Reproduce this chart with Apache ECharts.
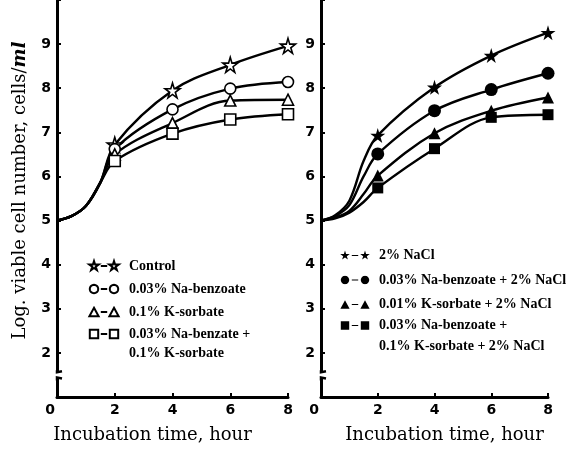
<!DOCTYPE html>
<html><head><meta charset="utf-8">
<script src="https://cdn.jsdelivr.net/npm/echarts@6/dist/echarts.min.js"></script>
<style>html,body{margin:0;padding:0;background:#fff}#c{width:585px;height:454px}</style>
</head><body><div id="c"></div>
<script>
// Incubation time (hour); points before 2 h are read off the drawn curves (no markers there)
const hours = [0, 0.5, 1, 1.5, 2, 4, 6, 8];
const xTicks = [0, 2, 4, 6, 8];
const yTicks = [2, 3, 4, 5, 6, 7, 8, 9];
// Left panel
const control = [5, 5.1, 5.33, 5.86, 6.72, 7.95, 8.53, 8.96];
const naBenzoate = [5, 5.1, 5.33, 5.86, 6.62, 7.52, 7.99, 8.14];
const kSorbate = [5, 5.1, 5.33, 5.86, 6.50, 7.21, 7.72, 7.74];
const naBenzateKSorbate = [5, 5.1, 5.33, 5.86, 6.35, 6.97, 7.29, 7.41];
// Right panel
const nacl = [5, 5.12, 5.45, 6.35, 6.93, 8.02, 8.74, 9.26];
const naBenzoateNacl = [5, 5.1, 5.35, 6.0, 6.51, 7.49, 7.97, 8.34];
const kSorbateNacl = [5, 5.07, 5.22, 5.6, 6.02, 6.98, 7.49, 7.79];
const comboNacl = [5, 5.05, 5.18, 5.42, 5.74, 6.63, 7.34, 7.40];

const leftNames = ['Control', '0.03% Na-benzoate', '0.1% K-sorbate', '0.03% Na-benzate +\n0.1% K-sorbate'];
const rightNames = ['2% NaCl', '0.03% Na-benzoate + 2% NaCl', '0.01% K-sorbate + 2% NaCl', '0.03% Na-benzoate +\n0.1% K-sorbate + 2% NaCl'];
const xTitle = 'Incubation time, hour';
const yTitle = 'Log. viable cell number, cells/';
const yTitleUnit = 'ml';

const STAR_D = 'M50 0L61 35L98 35L68 57L79 91L50 70L21 91L32 57L2 35L39 35Z';
const STAR = 'path://' + STAR_D;
const SERIF = '"Liberation Serif","DejaVu Serif",serif';
const TSERIF = '"DejaVu Serif","Liberation Serif",serif';
const SANS = '"DejaVu Sans",sans-serif';

// legend icons "symbol – symbol" (box 0..300 x 0..100, plus an invisible point to leave a gap before the text)
function shiftPath(d, dx) {
  return d.replace(/([ML])(-?[\d.]+) (-?[\d.]+)/g, (m, c, x, y) => c + (parseFloat(x) + dx).toFixed(1) + ' ' + y);
}
function circlePath() {
  let d = '';
  for (let k = 0; k < 32; k++) {
    const a = k / 32 * Math.PI * 2;
    d += (k ? 'L' : 'M') + (50 + 42 * Math.cos(a)).toFixed(1) + ' ' + (50 + 42 * Math.sin(a)).toFixed(1);
  }
  return d + 'Z';
}
const SHAPES = {
  star: STAR_D,
  circle: circlePath(),
  triangle: 'M50 8L96 92L4 92Z',
  rect: 'M8 8L92 8L92 92L8 92Z'
};
function legendIcon(kind, filled, extra) {
  const s = SHAPES[kind];
  const dash = filled ? 'M118 44L182 44L182 56L118 56Z' : 'M118 50L182 50';
  return 'path://M0 0' + s + dash + shiftPath(s, 200) + 'M' + (300 + extra) + ' 100';
}

function pts(vals) {
  return hours.map((h, i) => h < 2 ? { value: [h, vals[i]], symbol: 'none' } : [h, vals[i]]);
}
function ser(name, vals, idx, symbol, size, filled) {
  return {
    name, type: 'line', xAxisIndex: idx, yAxisIndex: idx,
    data: pts(vals), smooth: 0.35, symbol, symbolSize: size, showAllSymbol: true,
    lineStyle: { color: '#000', width: 2.4 },
    itemStyle: { color: filled ? '#000' : '#fff', borderColor: '#000', borderWidth: filled ? 0 : 1.6 },
    emphasis: { disabled: true }, z: 3
  };
}
function xAxis(idx, pad) {
  return {
    gridIndex: idx, type: 'value', min: 0, max: 8, interval: 2,
    axisLine: { lineStyle: { color: '#000', width: 3 } },
    axisTick: { inside: true, length: 4, lineStyle: { color: '#000', width: 2 } },
    splitLine: { show: false },
    axisLabel: { color: '#000', fontFamily: SANS, fontWeight: 'bold', fontSize: 14, margin: 6,
      formatter: v => xTicks.includes(v) ? (v === 0 ? '{z|0}' : String(v)) : '',
      rich: { z: { color: '#000', fontFamily: SANS, fontWeight: 'bold', fontSize: 14, padding: [0, 14, 0, 0] } } },
    name: xTitle, nameLocation: 'middle', nameGap: 29,
    nameTextStyle: { color: '#000', fontFamily: TSERIF, fontSize: 18, padding: pad }
  };
}
function yAxis(idx, withName) {
  const a = {
    gridIndex: idx, type: 'value', min: 1, max: 10, interval: 1,
    axisLine: { lineStyle: { color: '#000', width: 3 } },
    axisTick: { inside: true, length: 4, lineStyle: { color: '#000', width: 2 } },
    splitLine: { show: false },
    axisLabel: { color: '#000', fontFamily: SANS, fontWeight: 'bold', fontSize: 14, margin: 6,
      formatter: v => yTicks.includes(v) ? String(v) : '' }
  };
  if (withName) {
    a.name = yTitle + '{i|' + yTitleUnit + '}';
    a.nameLocation = 'middle';
    a.nameGap = 28;
    a.nameTextStyle = { color: '#000', fontFamily: TSERIF, fontSize: 18, padding: [0, 0, 0, 16],
      rich: { i: { color: '#000', fontFamily: TSERIF, fontSize: 18, fontStyle: 'italic', fontWeight: 'bold' } } };
  }
  return a;
}
function it0w(it) { return Math.round(30 * (300 + it.extra) / 300); }
function legend(items, left, top, gap, lineHeight, multi) {
  return {
    data: items.map(it => ({ name: it.name, icon: legendIcon(it.kind, it.filled, it.extra) })),
    orient: 'vertical', left, top, itemWidth: it0w(items[0]), itemHeight: 10, itemGap: gap,
    selectedMode: false,
    formatter: multi ? (n => ' \n' + n) : undefined,
    textStyle: { color: '#000', fontFamily: SERIF, fontWeight: 'bold', fontSize: 14, lineHeight }
  };
}

const L = [
  { name: leftNames[0], kind: 'star', filled: false, extra: 50 },
  { name: leftNames[1], kind: 'circle', filled: false, extra: 50 },
  { name: leftNames[2], kind: 'triangle', filled: false, extra: 50 },
  { name: leftNames[3], kind: 'rect', filled: false, extra: 50 }
];
const R = [
  { name: rightNames[0], kind: 'star', filled: true, extra: 40 },
  { name: rightNames[1], kind: 'circle', filled: true, extra: 40 },
  { name: rightNames[2], kind: 'triangle', filled: true, extra: 40 },
  { name: rightNames[3], kind: 'rect', filled: true, extra: 40 }
];

const chart = echarts.init(document.getElementById('c'), null, { renderer: 'canvas' });
chart.setOption({
  animation: false,
  backgroundColor: '#fff',
  grid: [
    { left: 57, top: 0, width: 231, height: 397 },
    { left: 321, top: 0, width: 227, height: 397 }
  ],
  xAxis: [xAxis(0, [0, 40, 0, 0]), xAxis(1, [0, 0, 0, 20])],
  yAxis: [yAxis(0, true), yAxis(1, false)],
  legend: [
    legend(L.slice(0, 3), 83, 251.5, 4, 19, false),
    legend(L.slice(3), 83, 300.5, 4, 19, true),
    legend(R.slice(0, 3), 335, 241, 5.5, 19, false),
    legend(R.slice(3), 335, 289, 5, 21, true)
  ],
  series: [
    ser(leftNames[0], control, 0, STAR, 15, false),
    ser(leftNames[1], naBenzoate, 0, 'circle', 11, false),
    ser(leftNames[2], kSorbate, 0, 'triangle', 11, false),
    ser(leftNames[3], naBenzateKSorbate, 0, 'rect', 11, false),
    ser(rightNames[0], nacl, 1, STAR, 15, true),
    ser(rightNames[1], naBenzoateNacl, 1, 'circle', 13, true),
    ser(rightNames[2], kSorbateNacl, 1, 'triangle', 12, true),
    ser(rightNames[3], comboNacl, 1, 'rect', 11, true)
  ]
});

// axis-break decoration on each y axis
const els = [];
[0, 1].forEach(g => {
  const top = chart.convertToPixel({ gridIndex: g }, [0, 1.56]);
  const bot = chart.convertToPixel({ gridIndex: g }, [0, 1.44]);
  const x = top[0];
  els.push({ type: 'rect', shape: { x: x - 3, y: top[1], width: 6, height: bot[1] - top[1] },
    style: { fill: '#fff' }, z: 10 });
  els.push({ type: 'polyline', shape: { points: [[x, top[1] - 2], [x, top[1]], [x + 5, top[1] - 1]] },
    style: { stroke: '#000', lineWidth: 2.5, fill: null }, z: 11 });
  els.push({ type: 'polyline', shape: { points: [[x + 5, bot[1] + 1], [x, bot[1]], [x, bot[1] + 3]] },
    style: { stroke: '#000', lineWidth: 2.5, fill: null }, z: 11 });
});
chart.setOption({ graphic: els });
</script></body></html>
